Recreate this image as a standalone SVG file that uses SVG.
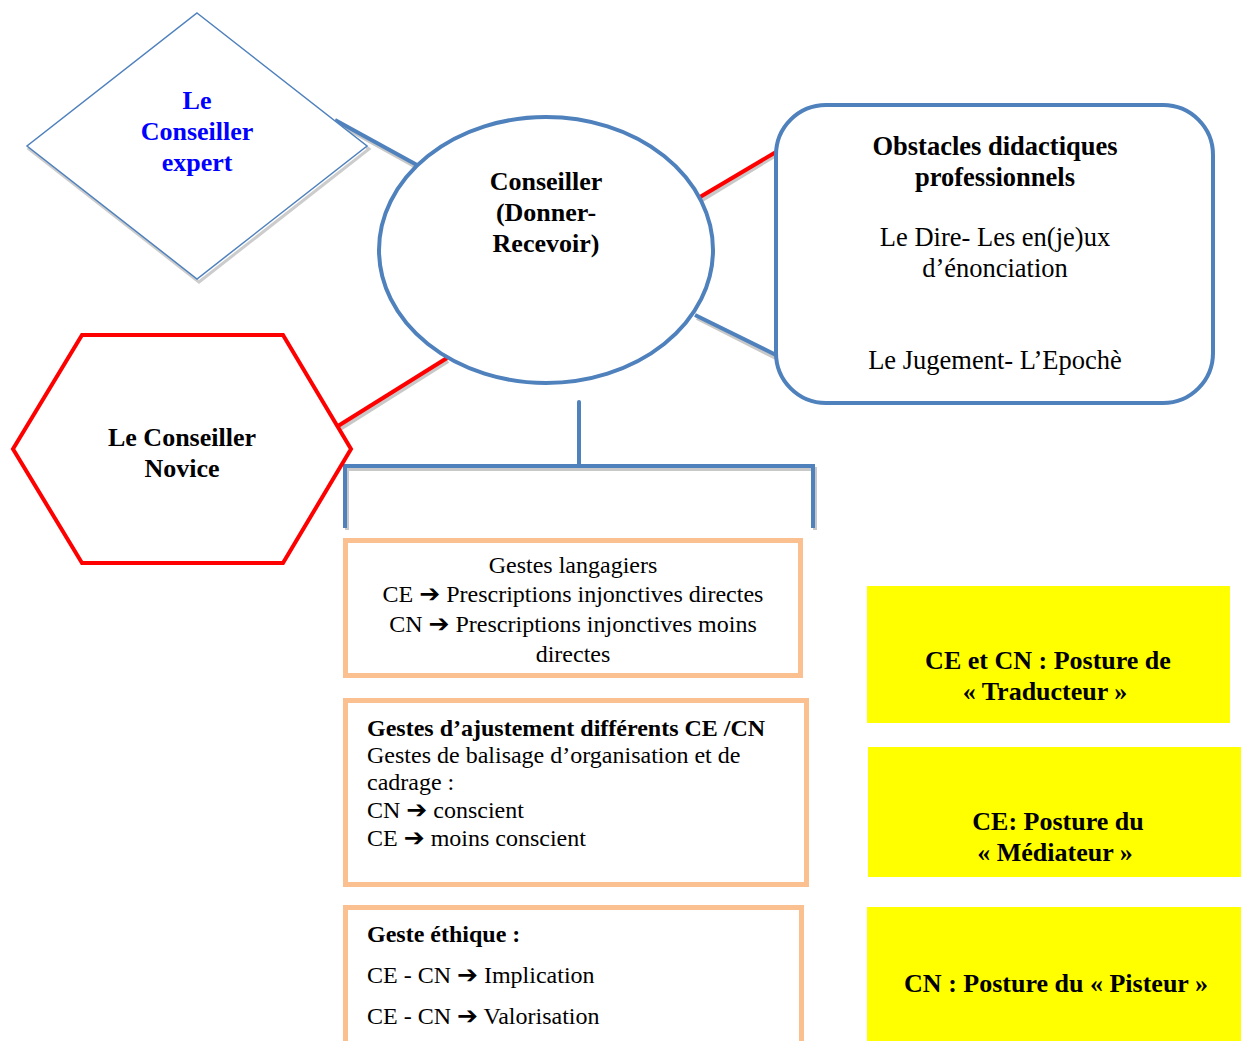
<svg xmlns="http://www.w3.org/2000/svg" width="1241" height="1041" viewBox="0 0 1241 1041">
<style>
.bold{font-family:"Liberation Serif","Times New Roman",serif;font-weight:bold;font-size:26px;fill:#000}
.reg{font-family:"Liberation Serif","Times New Roman",serif;font-size:26.5px;fill:#000}
.box{font-family:"Liberation Serif","Times New Roman",serif;font-size:24px;fill:#000}
.arr{font-family:"DejaVu Sans",sans-serif;font-weight:bold;font-size:25px}
.blue{stroke:#4F81BD;fill:none;stroke-width:4}
.shadow{stroke:#C8C8C8;fill:none;stroke-width:4}
.orange{fill:#fff;stroke:#FAC090;stroke-width:5}
.yellow{fill:#FFFF00}
</style>
<rect width="1241" height="1041" fill="#fff"/>
<g id="connectors">
  <line class="shadow" x1="337" y1="123" x2="418" y2="168"/>
  <line class="blue" x1="335" y1="120" x2="417" y2="165" stroke-width="5"/>
  <line class="shadow" x1="702" y1="200" x2="776" y2="155"/>
  <line x1="700" y1="197" x2="776" y2="152" stroke="#FF0000" stroke-width="4"/>
  <line class="shadow" x1="697" y1="318" x2="776" y2="358"/>
  <line class="blue" x1="695" y1="315" x2="776" y2="355"/>
  <line class="shadow" x1="340" y1="429" x2="448" y2="361"/>
  <line x1="338" y1="426" x2="447" y2="358" stroke="#FF0000" stroke-width="4"/>
  <polyline class="shadow" points="347,530 347,469 815,469 815,530"/>
  <line class="blue" x1="579" y1="402" x2="579" y2="466" stroke-linecap="round"/>
  <polyline class="blue" points="345,528 345,466 813,466 813,528"/>
</g>
<g id="node-expert">
  <polygon points="199,16 369,149 199,282 29,149" fill="none" stroke="#CCCCCC" stroke-width="3"/>
  <polygon points="197,13 367,146 197,279 27,146" fill="#fff" stroke="#4F81BD" stroke-width="1.5"/>
  <text class="bold" text-anchor="middle" style="fill:#0000FF"><tspan x="197" y="109">Le</tspan><tspan x="197" y="140">Conseiller</tspan><tspan x="197" y="171">expert</tspan></text>
</g>
<g id="node-conseiller">
  <ellipse cx="546" cy="250" rx="167" ry="133" fill="#fff" stroke="#4F81BD" stroke-width="4"/>
  <text class="bold" text-anchor="middle"><tspan x="546" y="190">Conseiller</tspan><tspan x="546" y="221">(Donner-</tspan><tspan x="546" y="252">Recevoir)</tspan></text>
</g>
<g id="node-obstacles">
  <rect x="776" y="105" width="437" height="298" rx="50" ry="50" fill="#fff" stroke="#4F81BD" stroke-width="4"/>
  <text class="bold" text-anchor="middle" style="font-size:26.5px"><tspan x="995" y="155">Obstacles didactiques</tspan><tspan x="995" y="186">professionnels</tspan></text>
  <text class="reg" text-anchor="middle"><tspan x="995" y="246">Le Dire- Les en(je)ux</tspan><tspan x="995" y="277">d’énonciation</tspan><tspan x="995" y="369">Le Jugement- L’Epochè</tspan></text>
</g>
<g id="node-novice">
  <polygon points="82,335 283,335 351,449 283,563 82,563 13,449" fill="#fff" stroke="#FF0000" stroke-width="4"/>
  <text class="bold" text-anchor="middle"><tspan x="182" y="446">Le Conseiller</tspan><tspan x="182" y="477">Novice</tspan></text>
</g>
<g id="node-langagiers">
  <rect class="orange" x="345.5" y="540.5" width="455" height="135"/>
  <text class="box" text-anchor="middle"><tspan x="573" y="573">Gestes langagiers</tspan><tspan x="573" y="602">CE <tspan class="arr">➔</tspan> Prescriptions injonctives directes</tspan><tspan x="573" y="632">CN <tspan class="arr">➔</tspan> Prescriptions injonctives moins</tspan><tspan x="573" y="662">directes</tspan></text>
</g>
<g id="node-ajustement">
  <rect class="orange" x="345.5" y="700.5" width="461" height="184"/>
  <text class="box"><tspan x="367" y="736" font-weight="bold">Gestes d’ajustement différents CE /CN</tspan><tspan x="367" y="763">Gestes de balisage d’organisation et de</tspan><tspan x="367" y="790">cadrage :</tspan><tspan x="367" y="818">CN <tspan class="arr">➔</tspan> conscient</tspan><tspan x="367" y="846">CE <tspan class="arr">➔</tspan> moins conscient</tspan></text>
</g>
<g id="node-ethique">
  <rect class="orange" x="345.5" y="907.5" width="456" height="150"/>
  <text class="box"><tspan x="367" y="942" font-weight="bold">Geste éthique :</tspan><tspan x="367" y="983">CE - CN <tspan class="arr">➔</tspan> Implication</tspan><tspan x="367" y="1024">CE - CN <tspan class="arr">➔</tspan> Valorisation</tspan></text>
</g>
<g id="node-traducteur">
  <rect class="yellow" x="867" y="586" width="363" height="137"/>
  <text class="bold" text-anchor="middle"><tspan x="1048" y="669">CE et CN : Posture de</tspan><tspan x="1045" y="700">« Traducteur »</tspan></text>
</g>
<g id="node-mediateur">
  <rect class="yellow" x="868" y="747" width="373" height="130"/>
  <text class="bold" text-anchor="middle"><tspan x="1058" y="830">CE: Posture du</tspan><tspan x="1055" y="861">« Médiateur »</tspan></text>
</g>
<g id="node-pisteur">
  <rect class="yellow" x="867" y="907" width="374" height="134"/>
  <text class="bold" text-anchor="middle"><tspan x="1056" y="992">CN : Posture du « Pisteur »</tspan></text>
</g>
</svg>
